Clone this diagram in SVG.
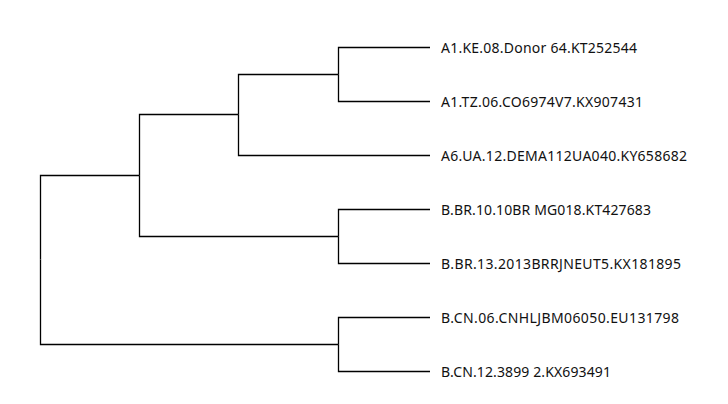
<svg xmlns="http://www.w3.org/2000/svg" width="728" height="404" viewBox="0 0 728 404">
<style>
.link{fill:none;stroke:#000;stroke-width:1.3}
.lbl{font-family:"Noto Sans","Open Sans",sans-serif;font-size:14px;fill:#111}
</style>
<rect width="728" height="404" fill="#fff"/>
<g id="connectors">
<path class="link" d="M40.5,259.5V175.5H139.5"/>
<path class="link" d="M40.5,259.5V344.5H338.5"/>
<path class="link" d="M139.5,175.5V114.5H238.5"/>
<path class="link" d="M139.5,175.5V236.5H338.5"/>
<path class="link" d="M238.5,114.5V74.5H338.5"/>
<path class="link" d="M238.5,114.5V155.5H430"/>
<path class="link" d="M338.5,74.5V47.5H430"/>
<path class="link" d="M338.5,74.5V101.5H430"/>
<path class="link" d="M338.5,236.5V209.5H430"/>
<path class="link" d="M338.5,236.5V263.5H430"/>
<path class="link" d="M338.5,344.5V317.5H430"/>
<path class="link" d="M338.5,344.5V371.5H430"/>
</g>
<g id="leaf1"><text class="lbl" x="441" y="52.5" textLength="196" lengthAdjust="spacing">A1.KE.08.Donor 64.KT252544</text></g>
<g id="leaf2"><text class="lbl" x="441" y="106.5" textLength="202" lengthAdjust="spacing">A1.TZ.06.CO6974V7.KX907431</text></g>
<g id="leaf3"><text class="lbl" x="441" y="160.5" textLength="246" lengthAdjust="spacing">A6.UA.12.DEMA112UA040.KY658682</text></g>
<g id="leaf4"><text class="lbl" x="441" y="214.5" textLength="210" lengthAdjust="spacing">B.BR.10.10BR MG018.KT427683</text></g>
<g id="leaf5"><text class="lbl" x="441" y="268.5" textLength="240" lengthAdjust="spacing">B.BR.13.2013BRRJNEUT5.KX181895</text></g>
<g id="leaf6"><text class="lbl" x="441" y="322.5" textLength="238" lengthAdjust="spacing">B.CN.06.CNHLJBM06050.EU131798</text></g>
<g id="leaf7"><text class="lbl" x="441" y="376.5" textLength="170" lengthAdjust="spacing">B.CN.12.3899 2.KX693491</text></g>
</svg>
